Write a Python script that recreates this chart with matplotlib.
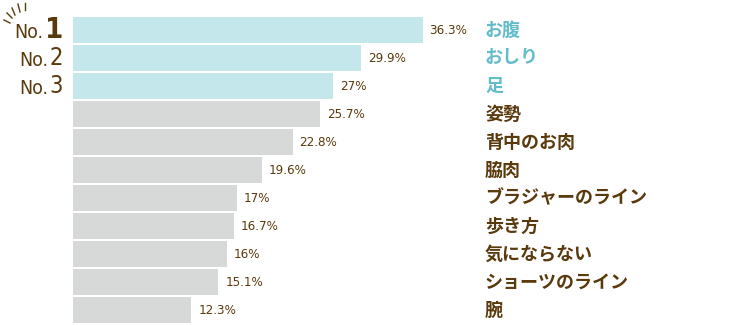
import matplotlib.pyplot as plt
from matplotlib.transforms import blended_transform_factory, offset_copy

# data
labels = ["お腹", "おしり", "足", "姿勢", "背中のお肉", "脇肉",
          "ブラジャーのライン", "歩き方", "気にならない", "ショーツのライン", "腕"]
values = [36.3, 29.9, 27, 25.7, 22.8, 19.6, 17, 16.7, 16, 15.1, 12.3]
value_text = ["36.3%", "29.9%", "27%", "25.7%", "22.8%", "19.6%", "17%", "16.7%", "16%", "15.1%", "12.3%"]
ranks = ["1", "2", "3"]

teal_bar = "#c3e7eb"
grey_bar = "#d7d8d8"
teal_txt = "#62bdca"
brown = "#5a3a0c"

W, H = 730, 325
px_per_unit = 9.63   # pixels per percent
x0 = 73               # bar left edge (px)
pitch = 28            # row pitch (px)
top = 30              # first row centre (px)

fig = plt.figure(figsize=(W / 100, H / 100), dpi=100)
ax = fig.add_axes([x0 / W, 0, 1 - x0 / W, 1])
ax.set_xlim(0, (W - x0) / px_per_unit)
ax.set_ylim((H - top) / pitch, -top / pitch)
ax.axis("off")

n = len(values)
colors = [teal_bar if i < 3 else grey_bar for i in range(n)]
ax.barh(range(n), values, height=26 / pitch, color=colors, edgecolor="none")

jp = ["Noto Sans CJK JP", "DejaVu Sans"]
num = dict(family="DejaVu Sans", stretch="condensed", color=brown)

for i, (v, t) in enumerate(zip(values, value_text)):
    ax.text(v + 7 / px_per_unit, i, t, ha="left", va="center", fontsize=9.5, **num)

lab_tr = blended_transform_factory(fig.transFigure, ax.transData)
for i, lab in enumerate(labels):
    fig.text(485 / W, i, lab, transform=lab_tr, ha="left", va="center",
             fontsize=13, fontweight="bold", family=jp,
             color=teal_txt if i < 3 else brown)

# No.1 - No.3 markers
fig.canvas.draw()
renderer = fig.canvas.get_renderer()
for i, r in enumerate(ranks):
    size = 21 if i == 0 else 17
    t = ax.text(-10 / px_per_unit, i, r, ha="right", va="center",
                fontsize=size, fontweight="bold" if i == 0 else "normal", **num)
    w = t.get_window_extent(renderer).width
    tr = offset_copy(ax.transData, fig=fig, x=-(w + 1) * 72 / 100, y=-2 * 72 / 100, units="points")
    ax.text(-10 / px_per_unit, i, "No.", ha="right", va="center",
            fontsize=14, transform=tr, **num)

# little spark lines above No.1
strokes = [((4, 20), (10, 23)), ((7, 13), (12, 18)), ((12, 8), (15, 15)),
           ((18, 4), (20, 12)), ((25, 3), (25, 10))]
for (xa, ya), (xb, yb) in strokes:
    fig.add_artist(plt.Line2D([xa / W, xb / W], [1 - ya / H, 1 - yb / H],
                              transform=fig.transFigure, color=brown, lw=1))

fig.savefig("out.png", dpi=100)
